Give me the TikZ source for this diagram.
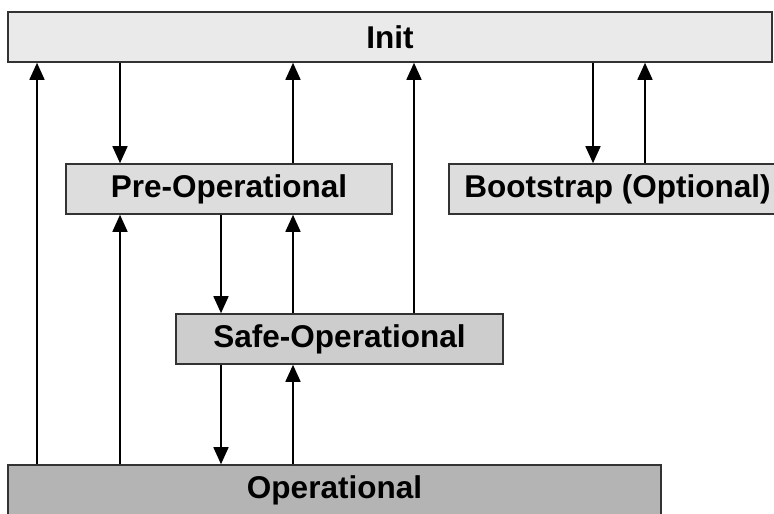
\documentclass[tikz,border=0pt]{standalone}
\usepackage{fontspec}
\setmainfont{Liberation Sans}
\usetikzlibrary{arrows.meta}
\definecolor{cinit}{HTML}{EAEAEA}
\definecolor{cpre}{HTML}{DDDDDD}
\definecolor{csafe}{HTML}{CDCDCD}
\definecolor{cop}{HTML}{B4B4B4}
\definecolor{edge}{HTML}{333333}
\begin{document}
\begin{tikzpicture}[x=1pt,y=-1pt,
  state/.style={draw=edge, line width=1.6pt, minimum height=50pt, inner sep=0pt,
    font=\fontsize{31.5}{31.5}\selectfont\bfseries},
  arr/.style={draw=black, line width=1.6pt, -{Triangle[length=17pt,width=15pt]}}]
\useasboundingbox (0,0) rectangle (774,514);
\clip (0,0) rectangle (774,514);
\node[state, fill=cinit, minimum width=764pt] (init) at (390,37) {Init};
\node[state, fill=cpre, minimum width=326pt] (pre) at (229,189) {Pre-Operational};
\node[state, fill=cpre, minimum width=337pt] (boot) at (617.5,189) {Bootstrap (Optional)};
\node[state, fill=csafe, minimum width=327pt] (safe) at (339.5,339) {Safe-Operational};
\node[state, fill=cop, minimum width=653pt] (op) at (334.5,490) {Operational};
\coordinate (xa) at (37,0);
\coordinate (xb) at (120,0);
\coordinate (xc) at (221,0);
\coordinate (xd) at (293,0);
\coordinate (xe) at (414,0);
\coordinate (xf) at (593,0);
\coordinate (xg) at (645,0);
\draw[arr] (op.north -| xa) -- (init.south -| xa);
\draw[arr] (init.south -| xb) -- (pre.north -| xb);
\draw[arr] (op.north -| xb) -- (pre.south -| xb);
\draw[arr] (pre.north -| xd) -- (init.south -| xd);
\draw[arr] (pre.south -| xc) -- (safe.north -| xc);
\draw[arr] (safe.north -| xd) -- (pre.south -| xd);
\draw[arr] (safe.north -| xe) -- (init.south -| xe);
\draw[arr] (init.south -| xf) -- (boot.north -| xf);
\draw[arr] (boot.north -| xg) -- (init.south -| xg);
\draw[arr] (safe.south -| xc) -- (op.north -| xc);
\draw[arr] (op.north -| xd) -- (safe.south -| xd);
\end{tikzpicture}
\end{document}
